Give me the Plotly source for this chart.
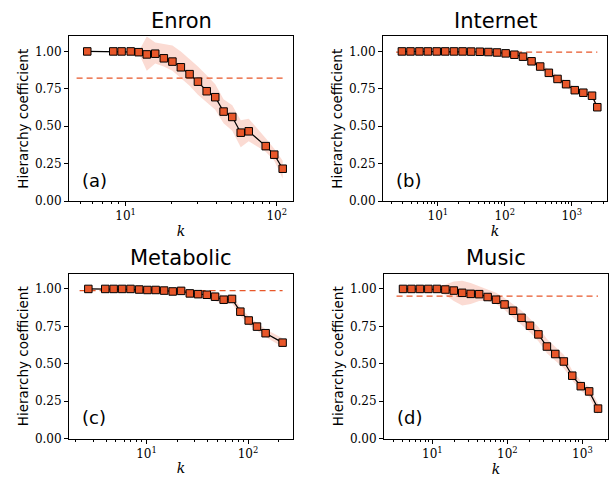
import plotly.graph_objects as go

# ---------------- data ----------------
titles = ["Enron", "Internet", "Metabolic", "Music"]
letters = ["(a)", "(b)", "(c)", "(d)"]

enron_k = [5.57, 8.28, 9.4, 10.8, 12.2, 13.8, 15.7, 17.9, 20.4, 23.2, 26.5, 30.1,
           34.4, 39.2, 44.5, 50.8, 57.8, 65.3, 84.6, 96.4, 109.6]
enron_h = [1.0, 1.0, 1.0, 1.0, 0.995, 0.98, 0.985, 0.954, 0.932, 0.894, 0.848, 0.798,
           0.734, 0.694, 0.598, 0.562, 0.457, 0.466, 0.367, 0.31, 0.216]
enron_lo = [1.0, 1.0, 1.0, 1.0, 0.99, 0.87, 0.92, 0.90, 0.87, 0.82, 0.77, 0.71,
            0.66, 0.61, 0.52, 0.47, 0.36, 0.40, 0.33, 0.27, 0.15]
enron_hi = [1.0, 1.0, 1.0, 1.0, 1.0, 1.10, 1.06, 1.05, 1.04, 1.0, 0.95, 0.90,
            0.84, 0.78, 0.68, 0.64, 0.54, 0.55, 0.42, 0.35, 0.27]
enron_ref = 0.822

internet_k = [2.9, 3.9, 5.3, 7.1, 9.6, 12.9, 17.4, 23.4, 31.4, 42.3, 56.9, 76.6,
              103, 139, 187, 251, 338, 455, 613, 824, 1110, 1490, 2010, 2410]
internet_h = [1.0, 1.0, 1.0, 1.0, 1.0, 1.0, 1.0, 1.0, 0.999, 0.998, 0.996, 0.993,
              0.987, 0.978, 0.965, 0.934, 0.899, 0.857, 0.816, 0.781, 0.741, 0.724,
              0.704, 0.627]
internet_ref = 0.995

metabolic_k = [2.67, 3.92, 4.74, 5.75, 6.95, 8.46, 10.2, 12.3, 14.9, 18.1, 21.9, 26.7,
               32.2, 39.2, 47.3, 57.5, 69.5, 84, 101.5, 122.5, 149, 219]
metabolic_h = [1.0, 1.0, 1.0, 1.0, 1.0, 0.996, 0.993, 0.993, 0.989, 0.983, 0.987, 0.97,
               0.965, 0.961, 0.948, 0.928, 0.933, 0.848, 0.789, 0.748, 0.704, 0.641]
metabolic_ref = 0.989

music_k = [4.06, 5.26, 6.82, 8.84, 11.5, 14.9, 19.3, 25.0, 32.4, 42.0, 54.5, 70.6,
           91.6, 119, 154, 200, 259, 336, 435, 565, 732, 950, 1230, 1615]
music_h = [1.0, 1.0, 1.0, 1.0, 1.0, 0.996, 0.989, 0.974, 0.967, 0.965, 0.946, 0.928,
           0.896, 0.854, 0.807, 0.754, 0.696, 0.615, 0.565, 0.515, 0.42, 0.35, 0.315, 0.2]
music_lo = [0.995, 0.995, 0.995, 0.99, 0.985, 0.96, 0.92, 0.89, 0.90, 0.92, 0.92, 0.90,
            0.86, 0.81, 0.76, 0.71, 0.65, 0.57, 0.52, 0.47, 0.39, 0.32, 0.28, 0.16]
music_hi = [1.005, 1.005, 1.005, 1.01, 1.02, 1.03, 1.05, 1.055, 1.04, 1.02, 1.0, 0.975,
            0.94, 0.90, 0.855, 0.80, 0.745, 0.665, 0.61, 0.56, 0.455, 0.385, 0.345, 0.235]
music_ref = 0.952

internet_spread = [0.003] * 8 + [0.004, 0.005, 0.006, 0.008, 0.01, 0.012, 0.015, 0.018,
                                 0.02, 0.022, 0.022, 0.02, 0.02, 0.018, 0.018, 0.018]
metabolic_spread = [0.005, 0.006, 0.007, 0.008, 0.009, 0.012, 0.014, 0.016, 0.017, 0.018,
                    0.02, 0.022, 0.024, 0.026, 0.028, 0.03, 0.03, 0.028, 0.028, 0.026,
                    0.026, 0.03]

internet_lo = [h - s for h, s in zip(internet_h, internet_spread)]
internet_hi = [h + s for h, s in zip(internet_h, internet_spread)]
metabolic_lo = [h - s for h, s in zip(metabolic_h, metabolic_spread)]
metabolic_hi = [h + s for h, s in zip(metabolic_h, metabolic_spread)]

panels = [
    (enron_k, enron_h, enron_lo, enron_hi, enron_ref, [0.625, 2.108], [1, 2]),
    (internet_k, internet_h, internet_lo, internet_hi, internet_ref, [0.18, 3.527], [1, 2, 3]),
    (metabolic_k, metabolic_h, metabolic_lo, metabolic_hi, metabolic_ref, [0.236, 2.443], [1, 2]),
    (music_k, music_h, music_lo, music_hi, music_ref, [0.355, 3.341], [1, 2, 3]),
]

y_ticks = [0, 0.25, 0.5, 0.75, 1.0]
y_ticktext = ["0.00", "0.25", "0.50", "0.75", "1.00"]

# ---------------- style ----------------
W, H = 611, 482
ORANGE = "#E8572A"
BAND = "rgba(240,110,80,0.25)"
SERIF = "DejaVu Serif"
SANS = "DejaVu Sans"

# axes boxes in pixels: (left, right, top, bottom)
boxes = [(69, 293, 37, 204), (383, 607, 37, 204), (69, 293, 278, 445), (384, 608, 278, 445)]

fig = go.Figure()
layout = dict(width=W, height=H, margin=dict(l=0, r=0, t=0, b=0),
              paper_bgcolor="white", plot_bgcolor="white", showlegend=False)
annotations = []

for i, (k, h, lo, hi, ref, xr, decs) in enumerate(panels):
    n = i + 1
    xa = "x" if n == 1 else f"x{n}"
    ya = "y" if n == 1 else f"y{n}"
    l, r, t, b = boxes[i]
    layout[f"xaxis{'' if n == 1 else n}"] = dict(
        type="log", range=xr, domain=[l / W, r / W], anchor=ya,
        tickvals=[10 ** d for d in decs],
        ticktext=[f"10<sup>{d}</sup>" for d in decs],
        ticks="outside", ticklen=4, tickwidth=1, tickcolor="black",
        minor=dict(ticks="outside", ticklen=2, tickwidth=0.8, tickcolor="black",
                   dtick="D1", showgrid=False),
        showline=True, mirror=True, linecolor="black", linewidth=1,
        showgrid=False, zeroline=False,
        tickfont=dict(family=SERIF, size=12, color="black"),
        title=dict(text="<i>k</i>", font=dict(family=SERIF, size=14, color="black"), standoff=3),
    )
    layout[f"yaxis{'' if n == 1 else n}"] = dict(
        range=[0, 1.1], domain=[1 - b / H, 1 - t / H], anchor=xa,
        tickvals=y_ticks, ticktext=y_ticktext,
        ticks="outside", ticklen=4, tickwidth=1, tickcolor="black",
        showline=True, mirror=True, linecolor="black", linewidth=1,
        showgrid=False, zeroline=False,
        tickfont=dict(family=SERIF, size=12, color="black"),
        title=dict(text="Hierarchy coefficient", font=dict(family=SANS, size=13.5, color="black"),
                   standoff=3),
    )
    # band
    fig.add_trace(go.Scatter(x=k + k[::-1], y=hi + lo[::-1], fill="toself",
                             fillcolor=BAND, line=dict(width=0), mode="lines",
                             hoverinfo="skip", xaxis=xa, yaxis=ya))
    # dashed reference line
    fig.add_trace(go.Scatter(x=[k[0] * 0.82 if i != 0 else k[0] * 0.85, k[-1]], y=[ref, ref],
                             mode="lines", line=dict(color=ORANGE, width=1.3, dash="6px,4px"),
                             xaxis=xa, yaxis=ya))
    # data line + markers
    fig.add_trace(go.Scatter(x=k, y=h, mode="lines+markers",
                             line=dict(color="black", width=1.2),
                             marker=dict(symbol="square", size=7.5, color=ORANGE,
                                         line=dict(color="black", width=1)),
                             xaxis=xa, yaxis=ya))
    # title
    annotations.append(dict(text=titles[i], x=(l + r) / 2 / W, y=1 - (t - 16) / H,
                            xref="paper", yref="paper", showarrow=False,
                            xanchor="center", yanchor="middle",
                            font=dict(family=SANS, size=21, color="black")))
    # panel letter
    annotations.append(dict(text=letters[i], x=(l + 11) / W, y=1 - (b - 21) / H,
                            xref="paper", yref="paper", showarrow=False,
                            xanchor="left", yanchor="middle",
                            font=dict(family=SANS, size=18, color="black")))

layout["annotations"] = annotations
fig.update_layout(**layout)
fig.write_html("out.html", config={"displayModeBar": False},
               post_script="document.body.style.margin='0';document.body.style.overflow='hidden';")
